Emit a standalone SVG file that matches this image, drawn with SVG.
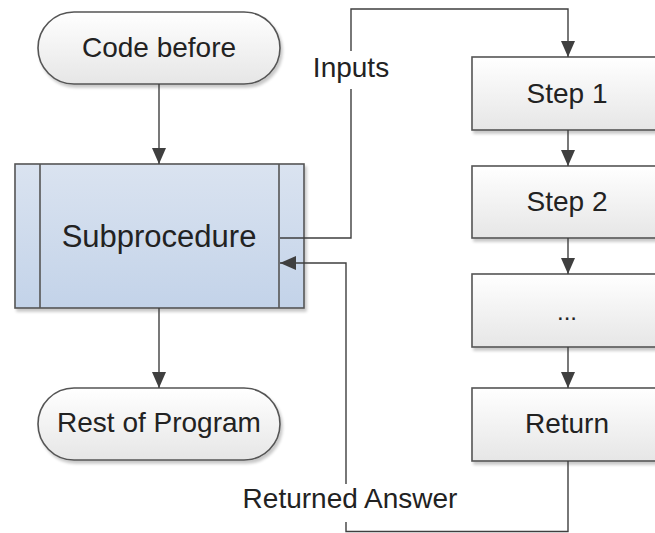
<svg xmlns="http://www.w3.org/2000/svg" width="655" height="533" viewBox="0 0 655 533">
  <defs>
    <linearGradient id="gGray" x1="0" y1="0" x2="0" y2="1">
      <stop offset="0" stop-color="#ffffff"/>
      <stop offset="1" stop-color="#e6e6e6"/>
    </linearGradient>
    <linearGradient id="gBlue" x1="0" y1="0" x2="0" y2="1">
      <stop offset="0" stop-color="#dae3f0"/>
      <stop offset="1" stop-color="#c3d3e9"/>
    </linearGradient>
    <filter id="shadow" x="-10%" y="-10%" width="125%" height="130%">
      <feGaussianBlur in="SourceAlpha" stdDeviation="1.5"/>
      <feOffset dx="2" dy="3" result="b"/>
      <feComponentTransfer><feFuncA type="linear" slope="0.22"/></feComponentTransfer>
      <feMerge><feMergeNode/><feMergeNode in="SourceGraphic"/></feMerge>
    </filter>
    <marker id="arrow" viewBox="0 0 16 14" refX="16" refY="7" markerWidth="16" markerHeight="14" markerUnits="userSpaceOnUse" orient="auto">
      <path d="M0,0 L16,7 L0,14 z" fill="#3f3f3f"/>
    </marker>
  </defs>
  <style>
    .box { stroke: #555555; stroke-width: 1.6; filter: url(#shadow); }
    .gray { fill: url(#gGray); }
    .blue { fill: url(#gBlue); }
    .div { stroke: #555555; stroke-width: 1.6; fill: none; }
    .conn { fill: none; stroke: #3f3f3f; stroke-width: 1.4; }
    .lbl { font-family: "Liberation Sans", Arial, sans-serif; font-size: 28px; fill: #222222; text-anchor: middle; }
    .big { font-size: 31px; }
    .bg { fill: #ffffff; }
  </style>
  <rect width="655" height="533" fill="#ffffff"/>

  <g id="code-before">
    <rect class="box gray" x="38" y="12" width="242" height="72" rx="36" ry="36"/>
    <text class="lbl" x="159" y="57">Code before</text>
  </g>

  <g id="subprocedure">
    <rect class="box blue" x="15" y="164" width="289" height="144"/>
    <path class="div" d="M40 164 V308 M279 164 V308"/>
    <text class="lbl big" x="159" y="247">Subprocedure</text>
  </g>

  <g id="rest-of-program">
    <rect class="box gray" x="38" y="388" width="242" height="72" rx="36" ry="36"/>
    <text class="lbl" x="159" y="432">Rest of Program</text>
  </g>

  <g id="step1">
    <rect class="box gray" x="472" y="57" width="192" height="73"/>
    <text class="lbl" x="567" y="103">Step 1</text>
  </g>

  <g id="step2">
    <rect class="box gray" x="472" y="166" width="192" height="72"/>
    <text class="lbl" x="567" y="211">Step 2</text>
  </g>

  <g id="step-more">
    <rect class="box gray" x="472" y="274" width="192" height="73"/>
    <text class="lbl" x="567" y="320" style="font-size:24px">...</text>
  </g>

  <g id="return">
    <rect class="box gray" x="472" y="388" width="192" height="73"/>
    <text class="lbl" x="567" y="433">Return</text>
  </g>

  <g id="connectors">
    <path class="conn" d="M159 84 V164" marker-end="url(#arrow)"/>
    <path class="conn" d="M159 308 V388" marker-end="url(#arrow)"/>
    <path class="conn" d="M280 238 H351 V9 H568 V57" marker-end="url(#arrow)"/>
    <path class="conn" d="M568 130 V166" marker-end="url(#arrow)"/>
    <path class="conn" d="M568 238 V274" marker-end="url(#arrow)"/>
    <path class="conn" d="M568 347 V388" marker-end="url(#arrow)"/>
    <path class="conn" d="M568 461 V531.5 H346 V263 H280" marker-end="url(#arrow)"/>
    <g id="label-inputs">
      <rect class="bg" x="306" y="51" width="90" height="38"/>
      <text class="lbl" x="351" y="77">Inputs</text>
    </g>
    <g id="label-returned">
      <rect class="bg" x="234" y="484" width="232" height="38"/>
      <text class="lbl" x="350" y="508">Returned Answer</text>
    </g>
  </g>
</svg>
